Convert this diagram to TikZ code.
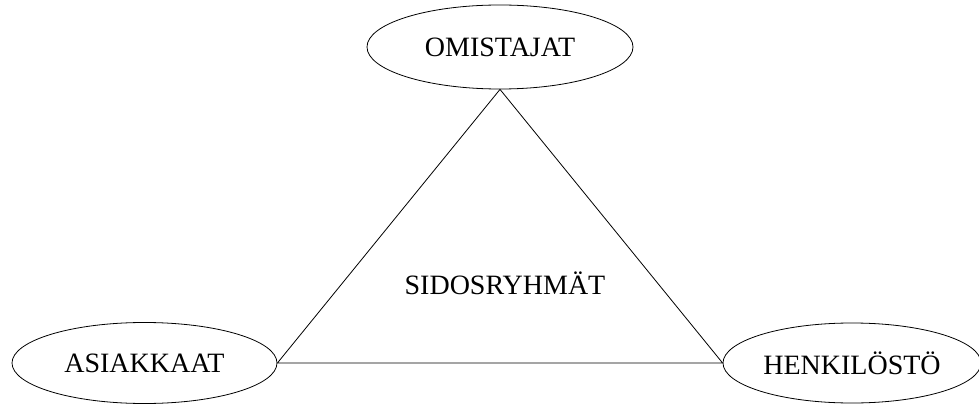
\documentclass[tikz,border=0pt]{standalone}
\usepackage{fontspec}
\setmainfont{Liberation Serif}
\usetikzlibrary{shapes.geometric}
\begin{document}
\begin{tikzpicture}[x=1pt,y=-1pt,
  grp/.style={draw, ellipse, line width=0.8pt, inner sep=0pt, font=\fontsize{28}{32}\selectfont},
  edge/.style={line width=0.8pt}]
\useasboundingbox (0,0) rectangle (979,406);
\node[grp, minimum width=266, minimum height=84] (om) at (500,47) {OMISTAJAT};
\node[grp, minimum width=265, minimum height=81] (as) at (144.5,363) {ASIAKKAAT};
\node[grp, minimum width=258, minimum height=80] (he) at (852,363) {HENKILÖSTÖ};
\node[font=\fontsize{28}{32}\selectfont] (sid) at (505,283) {SIDOSRYHMÄT};
\draw[edge] (om.south) -- (as.east) -- (he.west) -- cycle;
\end{tikzpicture}
\end{document}
